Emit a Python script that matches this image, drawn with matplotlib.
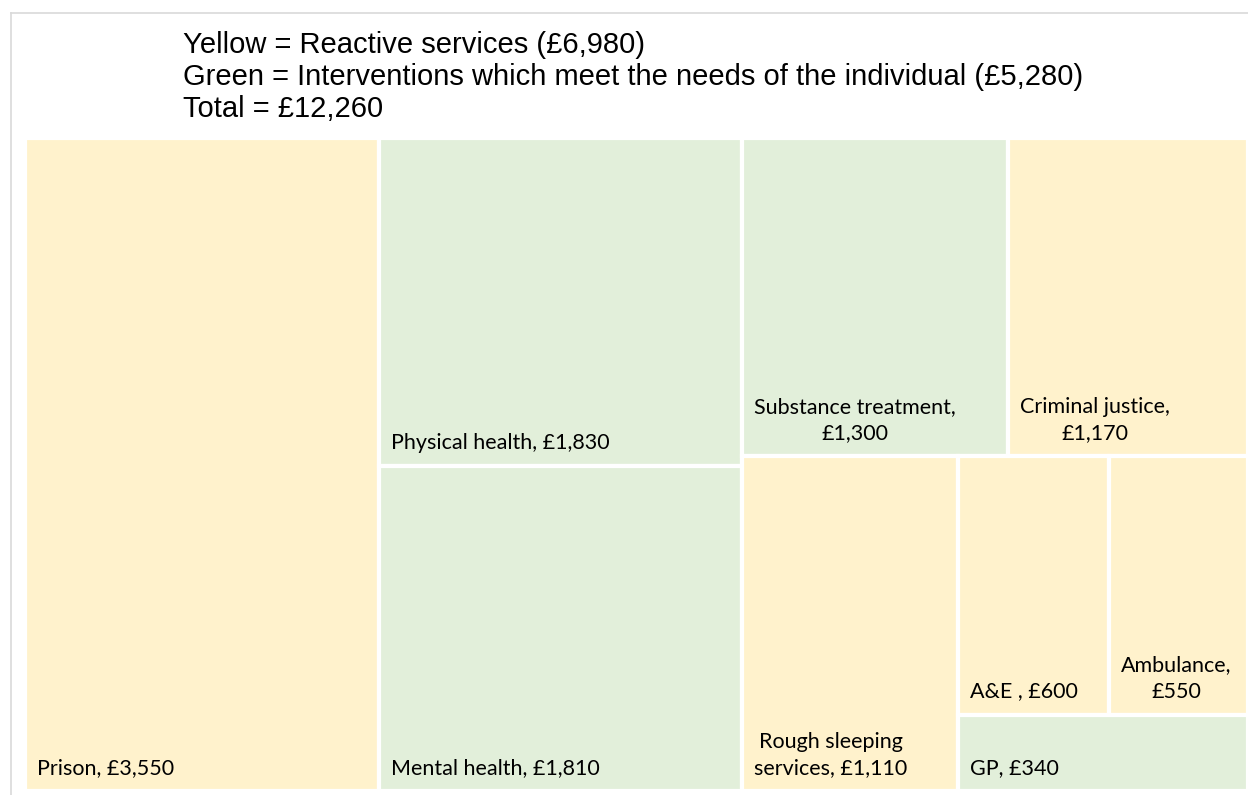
import matplotlib
matplotlib.use("Agg")
import matplotlib.pyplot as plt
from matplotlib.patches import Rectangle
from matplotlib.lines import Line2D

# data
names = ["Prison", "Physical health", "Mental health", "Substance treatment",
         "Criminal justice", "Rough sleeping\nservices", "A&E ", "Ambulance", "GP"]
values = [3550, 1830, 1810, 1300, 1170, 1110, 600, 550, 340]
groups = ["Reactive", "Needs", "Needs", "Needs", "Reactive", "Reactive",
          "Reactive", "Reactive", "Needs"]
separators = [", ", ", ", ", ", ",\n", ",\n", ", ", ", ", ",\n", ", "]
title_lines = ["Yellow = Reactive services (£6,980)",
               "Green = Interventions which meet the needs of the individual (£5,280)",
               "Total = £12,260"]

color_map = {"Reactive": "#FFF2CC", "Needs": "#E2EFDA"}


def worst(row, side):
    s = sum(row)
    return max(max(side * side * r / (s * s), s * s / (side * side * r)) for r in row)


def squarify(areas, x, y, w, h):
    # classic squarified treemap, y grows downwards
    rects = []
    areas = list(areas)
    while areas:
        side = min(w, h)
        row = [areas.pop(0)]
        while areas and worst(row + [areas[0]], side) <= worst(row, side):
            row.append(areas.pop(0))
        s = sum(row)
        if w >= h:
            cw = s / h
            yy = y
            for a in row:
                rects.append((x, yy, cw, a / cw))
                yy += a / cw
            x += cw
            w -= cw
        else:
            rh = s / w
            xx = x
            for a in row:
                rects.append((xx, y, a / rh, rh))
                xx += a / rh
            y += rh
            h -= rh
    return rects


W, H = 1223.0, 653.0
total = sum(values)
areas = [v * W * H / total for v in values]
rects = squarify(areas, 0, 0, W, H)

fig = plt.figure(figsize=(12.48, 7.95), dpi=100)

# light grey frame, only left and top edges are in view
fx, fy = 10.5 / 1248, 1 - 12.5 / 795
fig.lines.append(Line2D([fx, fx], [0, fy], transform=fig.transFigure,
                        color="#D9D9D9", linewidth=1.2))
fig.lines.append(Line2D([fx, 1], [fy, fy], transform=fig.transFigure,
                        color="#D9D9D9", linewidth=1.2))

ax = fig.add_axes([25 / 1248, 4 / 795, W / 1248, H / 795])
ax.set_xlim(0, W)
ax.set_ylim(H, 0)
ax.axis("off")

for (rx, ry, rw, rh), name, val, grp, sep in zip(rects, names, values, groups, separators):
    ax.add_patch(Rectangle((rx, ry), rw, rh, facecolor=color_map[grp],
                           edgecolor="white", linewidth=3))
    label = "{}{}£{:,}".format(name, sep, val)
    ax.text(rx + 12, ry + rh - 13, label, fontsize=15.5, family="Lato",
            ha="left", va="bottom", multialignment="center", linespacing=1.4,
            color="#000000")

for i, line in enumerate(title_lines):
    fig.text(183 / 1248, 1 - (45 + 32 * i) / 795, line, fontsize=21,
             family="Liberation Sans", ha="left", va="center")

plt.savefig("out.png", dpi=100)
